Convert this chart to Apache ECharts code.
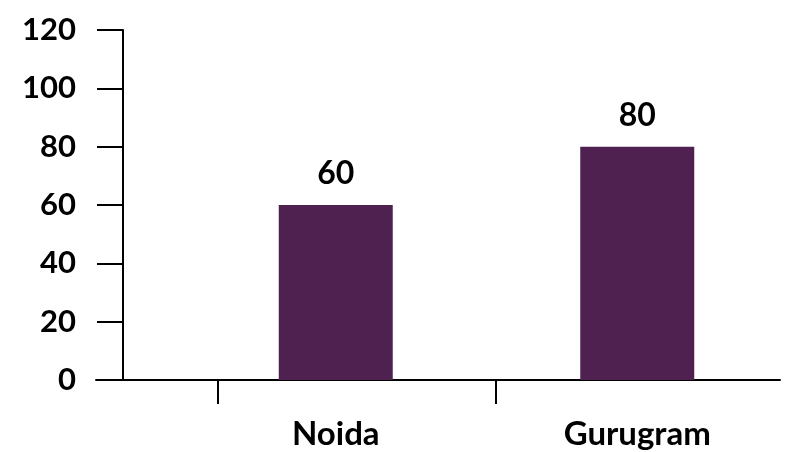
<!DOCTYPE html>
<html>
<head>
<meta charset="utf-8">
<script src="https://cdn.jsdelivr.net/npm/echarts@6/dist/echarts.min.js"></script>
<style>
html,body{margin:0;padding:0;background:#fff;}
#chart{width:788px;height:452px;}
</style>
</head>
<body>
<div id="chart"></div>
<script>
var categories = ['Noida', 'Gurugram'];
var values = [60, 80];
var yMin = 0, yMax = 120, yStep = 20;

var FONT = 'Lato';
var chart = echarts.init(document.getElementById('chart'));
chart.setOption({
  animation: false,
  backgroundColor: '#ffffff',
  grid: [
    { left: 96, right: 8, top: 30, bottom: 72 },
    { left: 185, right: 0, top: 30, bottom: 72 }
  ],
  xAxis: [
    {
      gridIndex: 0, type: 'value', min: 0, max: 100,
      axisLine: { show: true, lineStyle: { color: '#000', width: 2 } },
      axisTick: { show: true, customValues: [17.8, 58.5], length: 24, lineStyle: { color: '#000', width: 2 } },
      axisLabel: { show: false },
      splitLine: { show: false }
    },
    {
      gridIndex: 1, type: 'category', data: categories,
      axisLine: { show: false }, axisTick: { show: false },
      axisLabel: { show: true, color: '#000', fontFamily: FONT, fontWeight: 'bold', fontSize: 33, margin: 38 }
    }
  ],
  yAxis: [
    {
      gridIndex: 0, type: 'value', min: yMin, max: yMax, interval: yStep, offset: -27,
      axisLine: { show: true, lineStyle: { color: '#000', width: 2 } },
      axisTick: { show: true, length: 26, lineStyle: { color: '#000', width: 2 } },
      axisLabel: { show: true, color: '#000', fontFamily: FONT, fontWeight: 'bold', fontSize: 31, margin: 47 },
      splitLine: { show: false }
    },
    {
      gridIndex: 1, type: 'value', min: yMin, max: yMax, interval: yStep,
      show: false, splitLine: { show: false }
    }
  ],
  series: [{
    type: 'bar', xAxisIndex: 1, yAxisIndex: 1,
    data: values, barWidth: 114,
    itemStyle: { color: '#4e2150' },
    label: { show: true, position: 'top', distance: 15, color: '#000', fontFamily: FONT, fontWeight: 'bold', fontSize: 32 }
  }]
});
</script>
</body>
</html>
